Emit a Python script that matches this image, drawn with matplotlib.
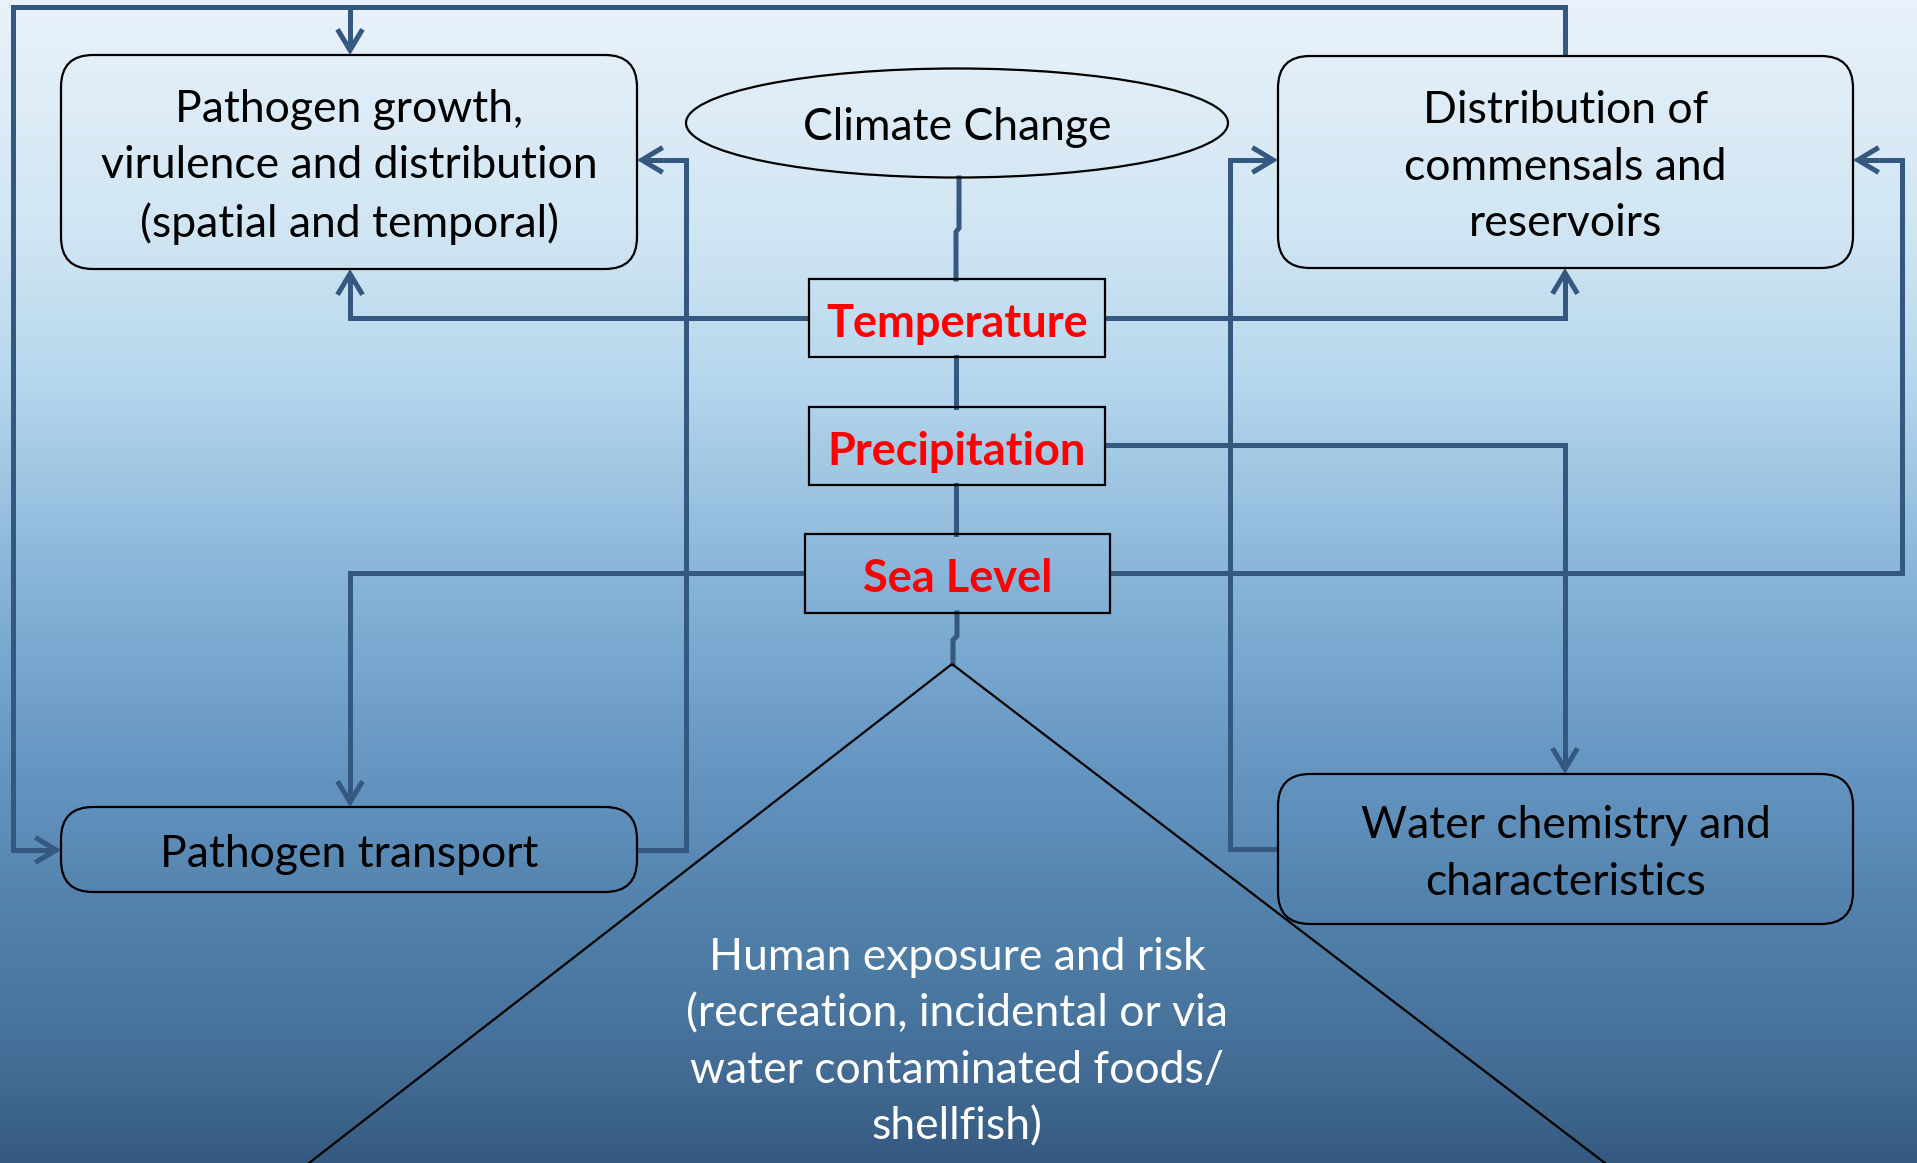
import numpy as np
import matplotlib
matplotlib.use("Agg")
import matplotlib.pyplot as plt
from matplotlib.patches import FancyBboxPatch, Ellipse, Rectangle, Polygon, FancyArrowPatch
from matplotlib.path import Path
from matplotlib.colors import LinearSegmentedColormap

# --- diagram content ---
root_label = "Climate Change"
driver_labels = ["Temperature", "Precipitation", "Sea Level"]
effect_labels = [
    "Pathogen growth,\nvirulence and distribution\n(spatial and temporal)",
    "Distribution of\ncommensals and\nreservoirs",
    "Pathogen transport",
    "Water chemistry and\ncharacteristics",
]
outcome_label = ("Human exposure and risk\n(recreation, incidental or via\n"
                 "water contaminated foods/\nshellfish)")

# --- layout (pixel space, y down) ---
W, H = 1917, 1163
effect_boxes = [(61, 55, 576, 214), (1278, 56, 575, 212),
                (61, 807, 576, 85), (1278, 774, 575, 150)]
driver_boxes = [(809, 279, 296, 78), (809, 407, 296, 78), (805, 534, 305, 79)]
ellipse_c, ellipse_wh = (957, 123), (542, 109)
triangle = [(952, 664), (300, 1170), (1614, 1170)]

arrow_paths = [
    [(1565, 56), (1565, 7), (13, 7), (13, 850), (61, 850)],
    [(350, 7), (350, 55)],
    [(809, 318), (350, 318), (350, 269)],
    [(1105, 318), (1565, 318), (1565, 268)],
    [(1105, 445), (1565, 445), (1565, 774)],
    [(805, 573), (350, 573), (350, 807)],
    [(1110, 573), (1902, 573), (1902, 160), (1853, 160)],
    [(637, 850), (686, 850), (686, 160), (637, 160)],
    [(1278, 849), (1230, 849), (1230, 160), (1278, 160)],
]
plain_paths = [
    [(959, 178), (959, 228), (956, 232), (956, 279)],
    [(956, 357), (956, 407)],
    [(956, 485), (956, 534)],
    [(957, 613), (957, 636), (953, 640), (953, 664)],
]

LINE = "#34587f"
FONT = ["Lato", "DejaVu Sans"]
FS = 32
LS = 1.46

fig = plt.figure(figsize=(W / 100, H / 100), dpi=100)
ax = fig.add_axes([0, 0, 1, 1])
ax.set_xlim(0, W)
ax.set_ylim(H, 0)
ax.axis("off")

# background: sea-like vertical gradient
bg = LinearSegmentedColormap.from_list("sea", [
    (0.0, "#e9f2fa"), (0.2, "#d0e5f3"), (0.32, "#b8d8ee"),
    (0.52, "#82b0d6"), (0.66, "#6596c2"), (0.8, "#5080a9"),
    (0.92, "#446d96"), (1.0, "#355a80")])
grad = np.linspace(0, 1, 256).reshape(-1, 1)
ax.imshow(grad, cmap=bg, aspect="auto", extent=(0, W, H, 0), zorder=0)

# connectors
for pts in plain_paths:
    xs, ys = zip(*pts)
    ax.plot(xs, ys, color=LINE, lw=3.6, solid_joinstyle="miter", zorder=2)
for pts in arrow_paths:
    codes = [Path.MOVETO] + [Path.LINETO] * (len(pts) - 1)
    arr = FancyArrowPatch(path=Path(pts, codes),
                          arrowstyle="->,head_length=0.75,head_width=0.45",
                          mutation_scale=20, color=LINE, lw=3.6,
                          joinstyle="miter", capstyle="butt", zorder=2)
    ax.add_patch(arr)

# root ellipse
ax.add_patch(Ellipse(ellipse_c, *ellipse_wh, fill=False, ec="black", lw=1.6, zorder=3))
ax.text(ellipse_c[0], ellipse_c[1] + 5, root_label, ha="center", va="center",
        fontsize=FS, family=FONT, color="black", zorder=4)

# driver boxes
for (x, y, w, h), lab in zip(driver_boxes, driver_labels):
    ax.add_patch(Rectangle((x, y), w, h, fill=False, ec="black", lw=1.6, zorder=3))
    ax.text(x + w / 2, y + h / 2 + 6, lab, ha="center", va="center", fontsize=32.5,
            family=FONT, fontweight="bold", color="#ff0000", zorder=4)

# effect boxes
for (x, y, w, h), lab in zip(effect_boxes, effect_labels):
    ax.add_patch(FancyBboxPatch((x, y), w, h, boxstyle="round,pad=0,rounding_size=32",
                                fill=False, ec="black", lw=1.6, zorder=3))
    ax.text(x + w / 2, y + h / 2 + 5, lab, ha="center", va="center", fontsize=FS,
            family=FONT, color="black", linespacing=LS, zorder=4)

# outcome triangle
ax.add_patch(Polygon(triangle, closed=True, fill=False, ec="black", lw=1.6, zorder=3))
ax.text(957, 1042, outcome_label, ha="center", va="center", fontsize=FS,
        family=FONT, color="white", linespacing=LS, zorder=4)

fig.savefig("out.png", dpi=100)
